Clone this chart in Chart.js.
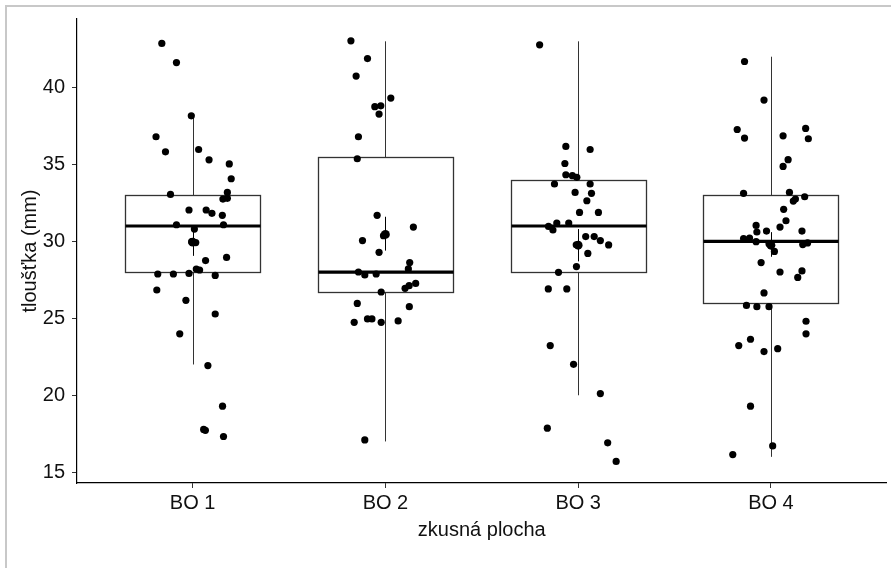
<!DOCTYPE html>
<html>
<head>
<meta charset="utf-8">
<title>tloušťka podle zkusné plochy</title>
<script src="https://cdn.jsdelivr.net/npm/chart.js@4/dist/chart.umd.min.js"></script>
<style>
    html, body { margin: 0; padding: 0; background: #fff; }
    #wrap { width: 891px; height: 568px; position: relative; }
</style>
</head>
<body>
<div id="wrap"><canvas id="chart-area"></canvas></div>
<script>
// zkusné plochy
var categories = ['BO 1', 'BO 2', 'BO 3', 'BO 4'];
var yTicks = [15, 20, 25, 30, 35, 40];

// krabicové grafy: kvartily a vousy
var q1 = [28, 26.7, 28, 26];
var median = [31, 28, 31, 30];
var q3 = [33, 35.5, 34, 33];
var whiskerLow = [22, 17, 20, 16];
var whiskerHigh = [38.2, 43, 43, 42];

// průměr a jeho rozpětí (± SE)
var means = [29.95, 30.45, 29.75, 29.75];
var meanLow = [29.06, 29.4, 28.7, 29.0];
var meanHigh = [30.85, 31.6, 30.8, 30.6];

// jednotlivá měření a jejich posun (jitter) od středu skupiny
var bo1Values = [42.86, 41.62, 38.16, 36.8, 35.82, 35.97, 35.3, 35.03, 34.07, 33.18,
    33.05, 32.75, 32.8, 32.04, 32.04, 31.82, 31.69, 31.08, 31.08, 30.8,
    29.98, 29.92, 28.75, 28.96, 27.88, 27.88, 27.92, 28.2, 28.14, 27.79,
    26.84, 26.17, 25.28, 23.99, 21.93, 19.29, 17.78, 17.72, 17.32];
var bo1Jitter = [-0.16, -0.084, -0.007, -0.19, -0.141, 0.031, 0.085, 0.19, 0.2, 0.18,
    -0.115, 0.157, 0.18, -0.019, 0.07, 0.1, 0.154, -0.084, 0.16, 0.009,
    -0.005, 0.016, 0.067, 0.176, -0.181, -0.1, -0.019, 0.019, 0.036, 0.117,
    -0.186, -0.035, 0.117, -0.067, 0.079, 0.155, 0.057, 0.066, 0.16];

var bo2Values = [43.03, 41.88, 40.74, 39.31, 38.75, 38.81, 38.27, 36.8, 35.37, 31.69,
    30.93, 30.37, 30.05, 29.29, 28.62, 28.21, 28.01, 27.82, 27.88, 27.27,
    27.12, 26.95, 26.71, 25.97, 25.76, 24.74, 24.96, 24.96, 24.74, 24.83, 17.1];
var bo2Jitter = [-0.179, -0.093, -0.152, 0.028, -0.055, -0.024, -0.033, -0.14, -0.146, -0.043,
    0.145, -0.01, -0.119, -0.033, 0.126, 0.119, -0.14, -0.107, -0.048, 0.157,
    0.123, 0.102, -0.022, -0.146, 0.124, -0.162, -0.093, -0.07, -0.022, 0.066, -0.107];

var bo3Values = [42.77, 36.17, 35.97, 35.06, 34.33, 34.27, 34.16, 33.73, 33.73, 33.18,
    33.12, 32.64, 31.88, 31.88, 31.19, 31.19, 30.97, 30.74, 30.31, 30.31,
    30.05, 29.77, 29.78, 29.22, 28.36, 27.99, 26.91, 26.91, 23.23, 22.01,
    20.11, 17.86, 16.91, 15.7];
var bo3Jitter = [-0.2, -0.064, 0.062, -0.069, -0.064, -0.03, -0.007, -0.123, 0.062, -0.016,
    0.069, 0.045, 0.007, 0.105, -0.111, -0.049, -0.154, -0.131, 0.039, 0.083,
    0.115, 0.158, -0.01, 0.05, -0.009, -0.102, -0.155, -0.059, -0.145, -0.024,
    0.115, -0.16, 0.153, 0.197];

var bo4Values = [41.69, 39.18, 37.27, 36.71, 36.86, 37.34, 36.67, 35.31, 34.87, 33.12,
    33.18, 32.9, 32.75, 32.62, 32.08, 31.34, 31.04, 30.93, 30.61, 30.67,
    30.67, 30.18, 30.22, 29.98, 29.79, 29.9, 29.85, 29.35, 28.62, 28.01,
    28.08, 27.66, 26.65, 25.84, 25.76, 25.76, 24.81, 23.99, 23.64, 23.23,
    22.84, 23.03, 19.29, 16.71, 16.15];
var bo4Jitter = [-0.137, -0.036, -0.175, -0.137, 0.063, 0.18, 0.194, 0.089, 0.063, -0.142,
    0.096, 0.175, 0.127, 0.116, 0.066, 0.078, -0.077, 0.047, -0.073, -0.023,
    0.161, -0.142, -0.111, -0.077, 0.165, 0.19, -0.01, 0.018, -0.051, 0.047,
    0.161, 0.139, -0.036, -0.127, -0.073, -0.01, 0.182, 0.182, -0.106, -0.167,
    -0.036, 0.035, -0.106, 0.009, -0.198];

var groupValues = [bo1Values, bo2Values, bo3Values, bo4Values];
var groupJitter = [bo1Jitter, bo2Jitter, bo3Jitter, bo4Jitter];

var points = [];
groupValues.forEach(function (vals, g) {
    vals.forEach(function (v, i) {
        points.push({x: g + 1 + groupJitter[g][i], y: v});
    });
});

var meanPoints = means.map(function (m, i) {
    return {x: i + 1, y: m};
});

var boxWidth = 0.7;
var textFont = {family: "'Liberation Sans', Arial, sans-serif", size: 20};

// bílé pozadí a šedý rámeček okna
var framePlugin = {
    id: 'frame',
    beforeDraw: function (chart) {
        var ctx = chart.ctx;
        ctx.save();
        ctx.fillStyle = '#ffffff';
        ctx.fillRect(0, 0, chart.width, chart.height);
        ctx.fillStyle = '#c8c8c8';
        ctx.fillRect(5, 5, chart.width - 5, 2);
        ctx.fillRect(5, 5, 2, chart.height - 5);
        ctx.restore();
    }
};

// krabice, vousy, medián a úsečka průměru
var boxPlugin = {
    id: 'boxes',
    beforeDatasetsDraw: function (chart) {
        var ctx = chart.ctx;
        var xs = chart.scales.x;
        var ys = chart.scales.y;
        ctx.save();
        for (var i = 0; i < categories.length; i++) {
            var c = i + 1;
            var xl = Math.round(xs.getPixelForValue(c - boxWidth / 2)) + 0.5;
            var xr = Math.round(xs.getPixelForValue(c + boxWidth / 2)) + 0.5;
            var xc = Math.round(xs.getPixelForValue(c)) + 0.5;
            var yq1 = Math.round(ys.getPixelForValue(q1[i])) + 0.5;
            var yq3 = Math.round(ys.getPixelForValue(q3[i])) + 0.5;

            ctx.strokeStyle = '#333333';
            ctx.lineWidth = 1;
            ctx.beginPath();
            ctx.moveTo(xc, ys.getPixelForValue(whiskerHigh[i]));
            ctx.lineTo(xc, yq3);
            ctx.moveTo(xc, yq1);
            ctx.lineTo(xc, ys.getPixelForValue(whiskerLow[i]));
            ctx.stroke();

            ctx.fillStyle = '#ffffff';
            ctx.fillRect(xl, yq3, xr - xl, yq1 - yq3);
            ctx.lineWidth = 1.3;
            ctx.strokeRect(xl, yq3, xr - xl, yq1 - yq3);

            ctx.strokeStyle = '#000000';
            ctx.lineWidth = 1;
            ctx.beginPath();
            ctx.moveTo(xc, ys.getPixelForValue(meanHigh[i]));
            ctx.lineTo(xc, ys.getPixelForValue(meanLow[i]));
            ctx.stroke();

            var ym = ys.getPixelForValue(median[i]);
            ctx.lineWidth = 3.2;
            ctx.beginPath();
            ctx.moveTo(xl, ym);
            ctx.lineTo(xr, ym);
            ctx.stroke();
        }
        ctx.restore();
    }
};

var config = {
    type: 'scatter',
    data: {
        datasets: [{
                label: 'měření',
                data: points,
                backgroundColor: '#000000',
                borderWidth: 0,
                pointRadius: 3.6
            }, {
                label: 'průměr',
                data: meanPoints,
                backgroundColor: '#000000',
                borderWidth: 0,
                pointRadius: 4.4
            }]
    },
    options: {
        responsive: true,
        maintainAspectRatio: false,
        animation: false,
        layout: {
            padding: {top: 18, right: 3, left: 0, bottom: 0}
        },
        plugins: {
            legend: {display: false},
            tooltip: {enabled: false}
        },
        scales: {
            x: {
                type: 'linear',
                min: 0.4,
                max: 4.6,
                afterBuildTicks: function (scale) {
                    scale.ticks = categories.map(function (c, i) {
                        return {value: i + 1};
                    });
                },
                afterFit: function (scale) {
                    scale.height = 85;
                },
                grid: {drawOnChartArea: false, drawTicks: true, tickLength: 5, color: '#333333'},
                border: {display: true, color: '#000000', width: 1.2},
                ticks: {
                    padding: 3,
                    color: '#111111',
                    font: textFont,
                    maxRotation: 0,
                    callback: function (value) {
                        return categories[value - 1];
                    }
                },
                title: {
                    display: true,
                    text: 'zkusná plocha',
                    color: '#111111',
                    font: textFont,
                    padding: {top: 0, bottom: 26}
                }
            },
            y: {
                min: 14.3,
                max: 44.45,
                afterBuildTicks: function (scale) {
                    scale.ticks = yTicks.map(function (v) {
                        return {value: v};
                    });
                },
                afterFit: function (scale) {
                    scale.width = 77;
                },
                grid: {drawOnChartArea: false, drawTicks: true, tickLength: 5, color: '#333333'},
                border: {display: true, color: '#000000', width: 1.2},
                ticks: {
                    padding: 7,
                    color: '#111111',
                    font: textFont
                },
                title: {
                    display: true,
                    text: 'tloušťka (mm)',
                    color: '#111111',
                    font: textFont,
                    padding: {top: 18, bottom: 0}
                }
            }
        }
    },
    plugins: [framePlugin, boxPlugin]
};

window.onload = function () {
    var ctx = document.getElementById('chart-area').getContext('2d');
    window.myBox = new Chart(ctx, config);
};
</script>
</body>
</html>
